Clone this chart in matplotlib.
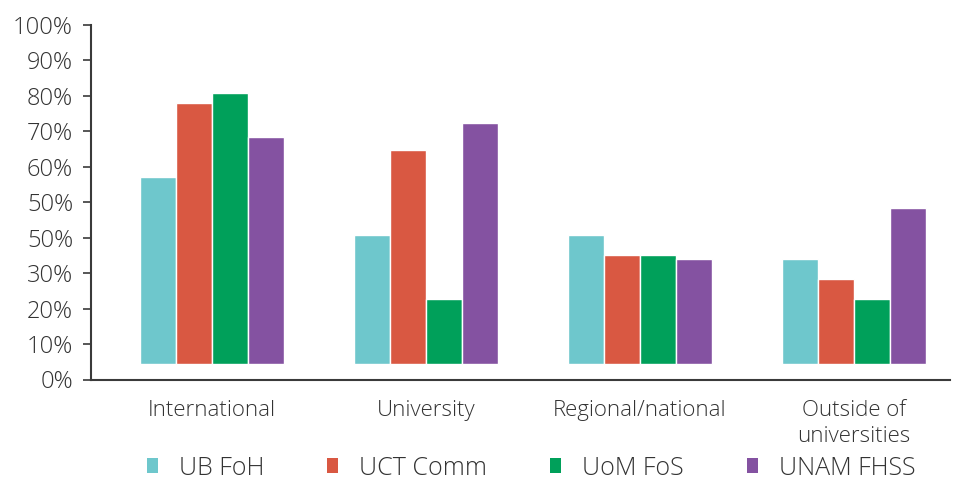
import numpy as np
import matplotlib.pyplot as plt
from matplotlib.patches import Patch

categories = ["International", "University", "Regional/national", "Outside of\nuniversities"]
series_names = ["UB FoH", "UCT Comm", "UoM FoS", "UNAM FHSS"]
ub_foh = [57.1, 40.8, 40.8, 34.0]
uct_comm = [78.0, 64.7, 35.1, 28.3]
uom_fos = [80.8, 22.7, 35.1, 22.7]
unam_fhss = [68.4, 72.4, 34.0, 48.4]
# tick labels as printed in the source (note the repeated 50%)
ytick_values = [0, 10, 20, 30, 40, 50, 60, 70, 80, 90, 100]
ytick_labels = ["0%", "10%", "20%", "30%", "50%", "50%", "60%", "70%", "80%", "90%", "100%"]

colors = ["#6EC7CC", "#D95842", "#00A05A", "#8452A1"]
text_color = "#333333"
bar_base = 4.4

plt.rcParams["font.family"] = ["Open Sans", "DejaVu Sans"]
plt.rcParams["font.weight"] = "light"

fig = plt.figure(figsize=(9.58, 4.9), dpi=100)
ax = fig.add_axes([91 / 958, 1 - 379.5 / 490, (950 - 91) / 958, (379.5 - 25) / 490])

x = np.arange(len(categories))
width = 0.168
for i, (vals, color) in enumerate(zip([ub_foh, uct_comm, uom_fos, unam_fhss], colors)):
    vals = np.array(vals)
    ax.bar(x + (i - 1.5) * width, vals - bar_base, width, bottom=bar_base,
           color=color, edgecolor="white", linewidth=1.0)

ax.set_xlim(-0.565, 3.45)
ax.set_ylim(0, 100)
ax.set_yticks(ytick_values)
ax.set_yticklabels(ytick_labels)
ax.set_xticks(x)
ax.set_xticklabels(categories, linespacing=1.3)

for side in ["top", "right"]:
    ax.spines[side].set_visible(False)
for side in ["left", "bottom"]:
    ax.spines[side].set_color("#3a3a3a")
    ax.spines[side].set_linewidth(1.5)

ax.tick_params(axis="y", length=6, width=1.2, color="#3a3a3a", labelsize=17,
               labelcolor=text_color, pad=7)
ax.tick_params(axis="x", length=0, labelsize=16, labelcolor=text_color, pad=15)

handles = [Patch(facecolor=c, edgecolor="none") for c in colors]
fig.legend(handles, series_names, loc="center", bbox_to_anchor=(531 / 958, 1 - 468 / 490),
           ncol=4, frameon=False, fontsize=18, handlelength=0.45, handleheight=0.55,
           handletextpad=0.85, columnspacing=2.5, labelcolor=text_color)

fig.savefig("out.png", dpi=100)
